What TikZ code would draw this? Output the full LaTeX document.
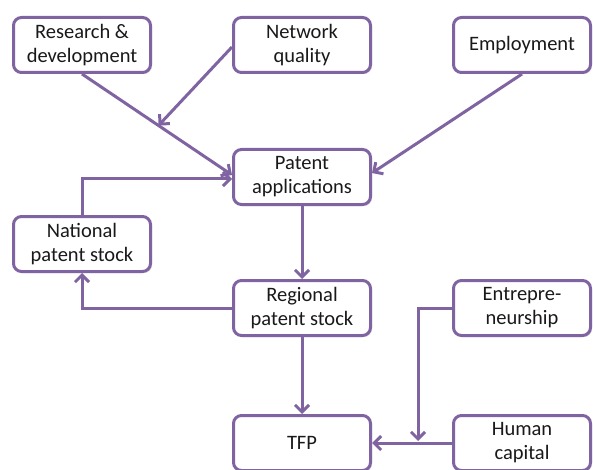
\documentclass[tikz,border=0pt]{standalone}
\usepackage{fontspec}
\setmainfont{Carlito}
\usetikzlibrary{arrows.meta,calc,shadows}
\definecolor{boxpurple}{HTML}{8064A2}

\begin{document}
\begin{tikzpicture}[x=1pt,y=-1pt,
  factor/.style={draw=boxpurple,line width=3pt,fill=white,rounded corners=8pt,
    minimum width=137pt,minimum height=55pt,align=center,text=black!90,
    font=\fontsize{20.5}{24}\selectfont,inner sep=0pt,
    drop shadow={shadow xshift=1.5pt,shadow yshift=-1.5pt,opacity=0.25}},
  link/.style={draw=boxpurple,line width=3pt,-{Straight Barb[length=7pt,width=14pt]}}]
\useasboundingbox (0,0) rectangle (593,470);
% boxes
\node [factor] (rd) at (82,45) {Research \&\\development};
\node [factor] (nq) at (302,45) {Network\\quality};
\node [factor] (em) at (522,45) {Employment};
\node [factor] (pa) at (302,177) {Patent\\applications};
\node [factor] (np) at (82,244) {National\\patent stock};
\node [factor] (rp) at (302,308) {Regional\\patent stock};
\node [factor] (en) at (522,308) {Entrepre-\\neurship};
\node [factor] (tfp) at (302,443) {TFP};
\node [factor] (hc) at (522,443) {Human\\capital};
% joints
\coordinate (rdjoin) at ($(rd.south)!0.51!([yshift=2pt]pa.west)$);
\coordinate (hcjoin) at (418,441);
% links
\draw [link] (rd.south) -- ([yshift=2pt]pa.west);
\draw [link] ([yshift=-2pt]nq.west) -- (rdjoin);
\draw [link] (em.south) -- ([yshift=4pt]pa.east);
\draw [link] (pa.south) -- (rp.north);
\draw [link] (rp.west) -| (np.south);
\draw [link] (np.north) |- ([yshift=-2pt]pa.west);
\draw [link] (rp.south) -- (tfp.north);
\draw [link] (en.west) -| (hcjoin);
\draw [link] (hc.west) -- (tfp.east);
\end{tikzpicture}
\end{document}
